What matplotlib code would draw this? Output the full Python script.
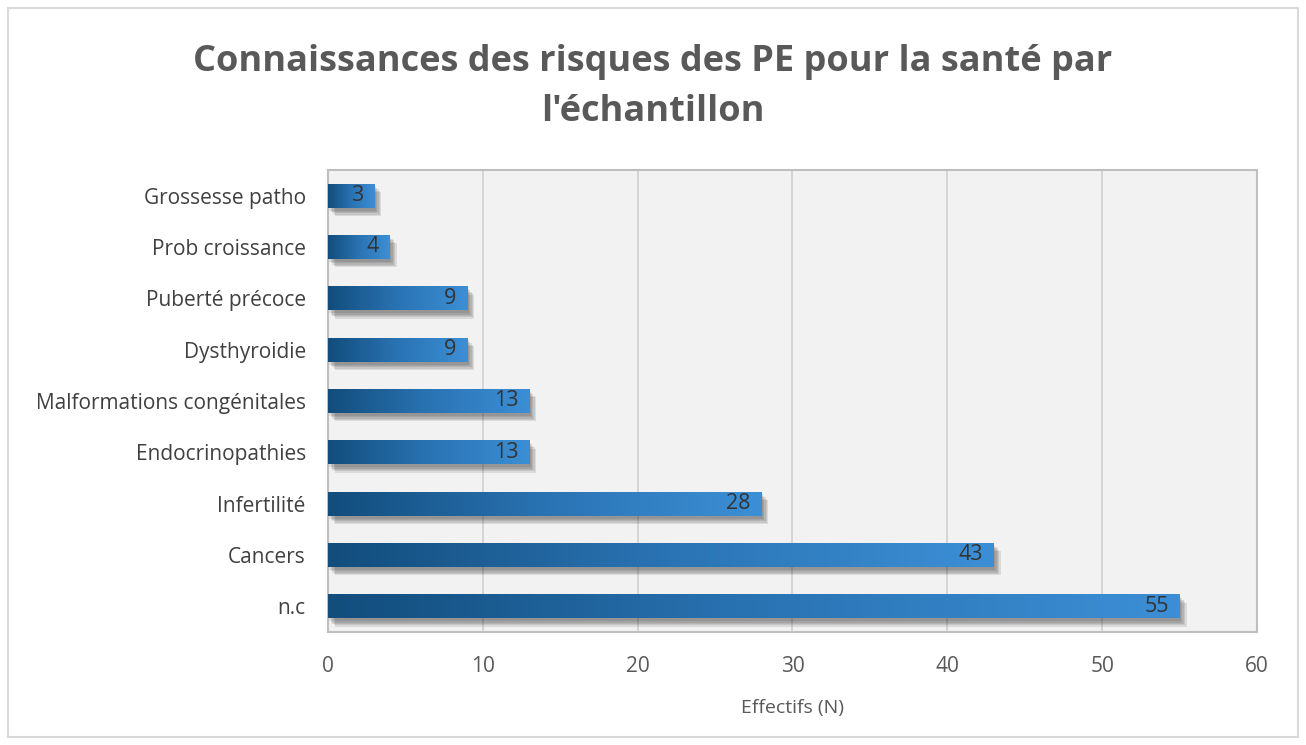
import numpy as np
import matplotlib
matplotlib.use("Agg")
import matplotlib.pyplot as plt
import matplotlib.patheffects as pe
from matplotlib.colors import LinearSegmentedColormap
from matplotlib.patches import Rectangle

# data, bottom to top as drawn
categories = ["n.c", "Cancers", "Infertilité", "Endocrinopathies",
              "Malformations congénitales", "Dysthyroidie", "Puberté précoce",
              "Prob croissance", "Grossesse patho"]
values = [55, 43, 28, 13, 13, 9, 9, 4, 3]

plt.rcParams['font.family'] = ['Open Sans', 'DejaVu Sans']

fig = plt.figure(figsize=(13.06, 7.45), dpi=100)
ax = fig.add_axes([328/1306, 1 - 632/745, (1257-328)/1306, (632-170)/745])
ax.set_facecolor("#f2f2f2")

cmap = LinearSegmentedColormap.from_list("bars", ["#124d7c", "#2a73b3", "#3c8fd6"])
grad = np.linspace(0, 1, 256).reshape(1, -1)

# soft shadow: a few faint offset copies
shadow = [pe.SimplePatchShadow(offset=(o, -o - 1), shadow_rgbFace="#333333", alpha=0.12)
          for o in (5, 4, 3, 2, 1)]

bars = ax.barh(range(len(values)), values, height=0.47, color="#2a73b3", zorder=3)
for b, v in zip(bars, values):
    b.set_path_effects(shadow + [pe.Normal()])
    x0, y0 = b.get_x(), b.get_y()
    w, h = b.get_width(), b.get_height()
    im = ax.imshow(grad, cmap=cmap, extent=[x0, x0 + w, y0, y0 + h],
                   aspect="auto", zorder=4, interpolation="bicubic")
    im.set_clip_path(b)
    ax.text(v - 0.7, b.get_y() + h / 2, str(v), ha="right", va="center",
            fontsize=15.5, color="#333333", zorder=5)

ax.set_xlim(0, 60)
ax.set_ylim(-0.5, len(values) - 0.5)
ax.set_xticks(range(0, 61, 10))
ax.set_yticks(range(len(values)))
ax.set_yticklabels(categories)
ax.tick_params(axis="y", length=0, pad=16, labelsize=15, labelcolor="#404040")
ax.tick_params(axis="x", length=0, pad=17, labelsize=15, labelcolor="#595959")
ax.grid(axis="x", color="#d0d0d0", linewidth=1.2, zorder=1)
ax.set_axisbelow(True)
for s in ax.spines.values():
    s.set_color("#bfbfbf")
    s.set_linewidth(1.5)

ax.set_xlabel("Effectifs (N)", fontsize=14, color="#595959", labelpad=16)

fig.text(0.5, 1 - 87/745, "Connaissances des risques des PE pour la santé par\nl'échantillon",
         ha="center", va="center", fontsize=26, fontweight="bold", color="#595959",
         linespacing=1.5)

fig.patches.append(Rectangle((8/1306, 8/745), 1 - 16/1306, 1 - 16/745,
                             transform=fig.transFigure, fill=False,
                             edgecolor="#d9d9d9", linewidth=1.5))

fig.savefig("out.png", dpi=100, facecolor="white")
